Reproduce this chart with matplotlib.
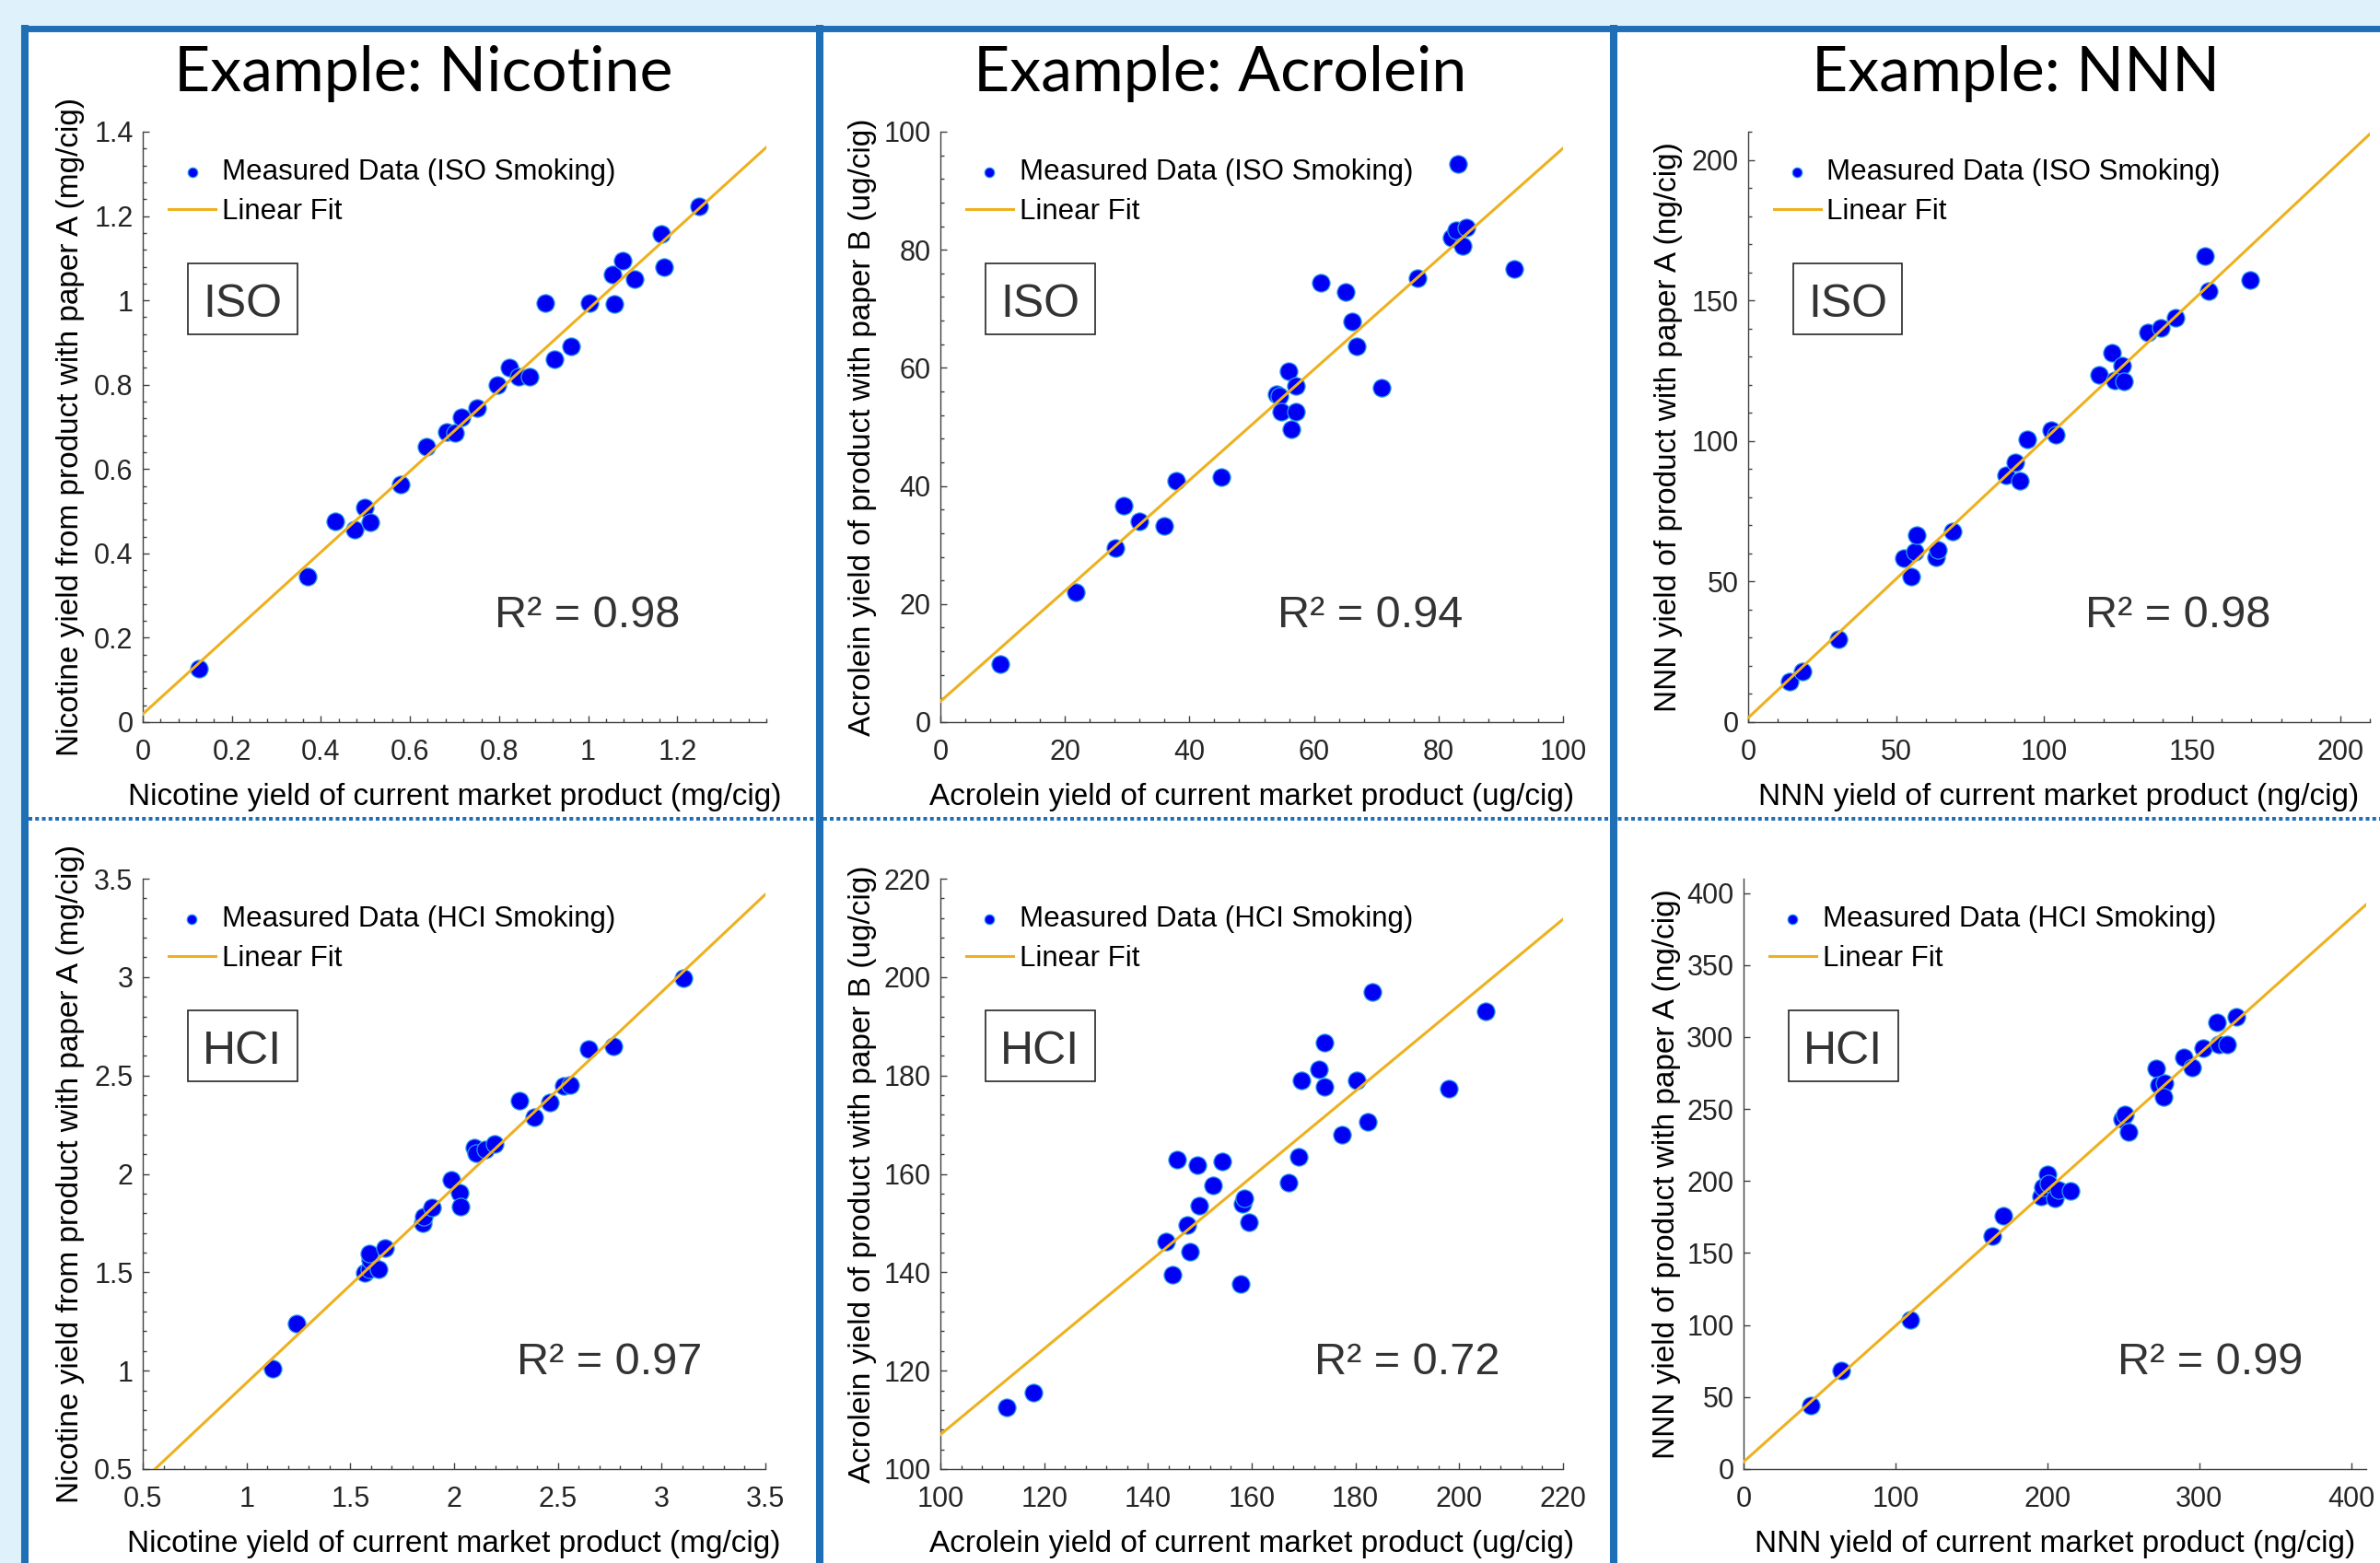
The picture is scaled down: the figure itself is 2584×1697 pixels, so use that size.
import numpy as np
import matplotlib.pyplot as plt
from matplotlib.patches import Rectangle
from matplotlib.ticker import AutoMinorLocator, FuncFormatter, NullLocator

W, H = 2584, 1697

# ---- values ----
nic_iso_x = [0.127, 0.370, 0.432, 0.476, 0.499, 0.510, 0.579, 0.637, 0.683, 0.702, 0.715, 0.751, 0.796, 0.824,
             0.843, 0.869, 0.904, 0.925, 0.961, 1.002, 1.054, 1.058, 1.077, 1.104, 1.164, 1.170, 1.250]
nic_iso_y = [0.127, 0.344, 0.476, 0.456, 0.509, 0.473, 0.564, 0.652, 0.689, 0.686, 0.722, 0.744, 0.799, 0.840,
             0.820, 0.820, 0.994, 0.861, 0.892, 0.994, 1.062, 0.991, 1.094, 1.051, 1.157, 1.080, 1.224]

acr_iso_x = [9.6, 21.7, 28.1, 29.4, 32.0, 35.9, 37.8, 45.1, 54.0, 54.5, 54.7, 55.9, 56.3, 57.1, 57.1, 61.1,
             65.1, 66.1, 66.8, 70.9, 76.7, 82.1, 82.9, 84.4, 83.9, 83.2, 92.2]
acr_iso_y = [9.9, 22.0, 29.5, 36.6, 34.0, 33.2, 40.9, 41.5, 55.5, 55.3, 52.5, 59.4, 49.6, 57.0, 52.6, 74.4,
             72.8, 67.8, 63.6, 56.7, 75.2, 82.1, 83.3, 83.8, 80.7, 94.5, 76.8]

nnn_iso_x = [13.9, 18.4, 30.6, 52.7, 55.0, 56.4, 56.9, 63.5, 64.2, 69.2, 87.0, 90.1, 91.8, 94.3, 102.2, 103.8,
             118.4, 122.9, 123.7, 126.4, 126.9, 134.9, 139.5, 144.3, 154.3, 155.7, 169.7]
nnn_iso_y = [14.4, 18.1, 29.6, 58.2, 51.8, 60.6, 66.4, 58.7, 61.1, 67.7, 87.8, 92.3, 85.9, 100.5, 104.0, 102.1,
             123.6, 131.4, 121.5, 126.7, 121.2, 138.5, 140.2, 143.7, 165.7, 153.4, 157.1]

nic_hci_x = [1.127, 1.242, 1.571, 1.591, 1.596, 1.591, 1.637, 1.665, 1.851, 1.854, 1.892, 1.987, 2.025, 2.032,
             2.096, 2.108, 2.152, 2.195, 2.315, 2.386, 2.463, 2.529, 2.557, 2.649, 2.766, 3.105]
nic_hci_y = [1.010, 1.240, 1.495, 1.517, 1.562, 1.594, 1.515, 1.625, 1.749, 1.784, 1.831, 1.969, 1.905, 1.833,
             2.135, 2.105, 2.125, 2.151, 2.370, 2.290, 2.364, 2.446, 2.451, 2.633, 2.648, 2.994]

acr_hci_x = [112.8, 117.9, 143.5, 144.8, 145.6, 147.5, 148.1, 149.5, 149.8, 152.5, 154.4, 157.8, 158.2, 158.5,
             159.5, 167.1, 169.1, 169.6, 172.9, 174.0, 174.0, 177.4, 180.2, 182.3, 183.2, 198.0, 205.1]
acr_hci_y = [112.5, 115.5, 146.3, 139.5, 162.9, 149.7, 144.2, 161.8, 153.5, 157.6, 162.5, 137.6, 154.0, 155.0,
             150.2, 158.2, 163.4, 179.0, 181.2, 186.6, 177.7, 168.0, 179.0, 170.5, 197.0, 177.3, 193.1]

nnn_hci_x = [44.4, 64.3, 110.0, 163.6, 170.8, 196.2, 196.9, 200.2, 200.8, 204.7, 207.3, 215.5, 249.1, 251.1,
             253.7, 271.7, 273.6, 276.9, 276.6, 290.0, 295.5, 302.7, 311.8, 312.8, 318.4, 324.2]
nnn_hci_y = [44.4, 68.4, 103.4, 161.6, 176.1, 189.2, 195.6, 204.7, 198.0, 187.9, 193.6, 192.9, 242.8, 246.5,
             234.0, 278.5, 266.7, 268.0, 258.2, 286.2, 279.1, 292.3, 310.1, 294.9, 294.9, 313.8]

# linear fit lines (intercept, slope) as drawn in the reference
fit_coefs = [(0.019, 0.960), (3.5, 0.937), (1.5, 0.989),
             (-0.055, 0.993), (19.7, 0.873), (5.0, 0.944)]
r2_values = ['0.98', '0.94', '0.98', '0.97', '0.72', '0.99']

titles = ['Example: Nicotine', 'Example: Acrolein', 'Example: NNN']
xlabels = ['Nicotine yield of current market product (mg/cig)',
           'Acrolein yield of current market product (ug/cig)',
           'NNN yield of current market product (ng/cig)']
ylabels = ['Nicotine yield from product with paper A (mg/cig)',
           'Acrolein yield of product with paper B (ug/cig)',
           'NNN yield of product with paper A (ng/cig)']
modes = ['ISO', 'HCI']

limits = [(0, 1.4), (0, 100), (0, 210), (0.5, 3.5), (100, 220), (0, 410)]
xticks = [np.arange(0, 1.21, 0.2), np.arange(0, 101, 20), np.arange(0, 201, 50),
          np.arange(0.5, 3.51, 0.5), np.arange(100, 221, 20), np.arange(0, 401, 100)]
yticks = [np.arange(0, 1.41, 0.2), np.arange(0, 101, 20), np.arange(0, 201, 50),
          np.arange(0.5, 3.51, 0.5), np.arange(100, 221, 20), np.arange(0, 401, 50)]

series = [(nic_iso_x, nic_iso_y), (acr_iso_x, acr_iso_y), (nnn_iso_x, nnn_iso_y),
          (nic_hci_x, nic_hci_y), (acr_hci_x, acr_hci_y), (nnn_hci_x, nnn_hci_y)]

# ---- layout (pixels in the output image) ----
axes_px = [(155, 143, 832, 784), (1021, 143, 1697, 784), (1898, 143, 2573, 784),
           (155, 954, 831, 1595), (1021, 954, 1697, 1595), (1893, 954, 2569, 1595)]
ylabel_x = [-0.093, -0.102, -0.105, -0.093, -0.102, -0.101]
r2_x = [0.564, 0.541, 0.542, 0.60, 0.60, 0.60]
title_cx = [460, 1325, 2189]

plt.rcParams['font.family'] = ['Liberation Sans', 'DejaVu Sans']
fig = plt.figure(figsize=(W / 100, H / 100), dpi=100, facecolor='#dff1fb')

# background frame
blue = '#1f6fb7'
bg = fig.add_axes([0, 0, 1, 1], zorder=-1)
bg.set_xlim(0, W)
bg.set_ylim(H, 0)
bg.axis('off')
bg.add_patch(Rectangle((27, 30), W - 27, H - 30, facecolor='white', edgecolor='none'))
bg.plot([31, W], [889, 889], color=blue, lw=2.9, dashes=(1.0, 0.8), dash_capstyle='butt')
bg.plot([23, W], [30.5, 30.5], color=blue, lw=5.0, solid_capstyle='butt')
for xc in [27, 890, 1752]:
    bg.plot([xc, xc], [27, H], color=blue, lw=5.8, solid_capstyle='butt')

for i, name in enumerate(titles):
    fig.text(title_cx[i] / W, 1 - 99 / H, name, family=['Lato', 'DejaVu Sans'], fontsize=49,
             ha='center', va='baseline', color='black')

fmt = FuncFormatter(lambda v, p: '%g' % round(v, 6))
tcol = '#262626'

for k in range(6):
    l, t, r, b = axes_px[k]
    ax = fig.add_axes([l / W, 1 - b / H, (r - l) / W, (b - t) / H])
    ax.set_facecolor('none')
    x, y = series[k]
    lo, hi = limits[k]
    a0, a1 = fit_coefs[k]
    mode = modes[k // 3]

    ax.scatter(x, y, s=190, facecolor='#0000f5', edgecolor='#2a9cf0', linewidth=0.9, zorder=3,
               label='Measured Data (%s Smoking)' % mode)
    xf = np.array([lo, hi])
    ax.plot(xf, a0 + a1 * xf, color='#EDB120', lw=2.2, zorder=4, label='Linear Fit')

    ax.set_xlim(lo, hi)
    ax.set_ylim(lo, hi)
    ax.set_xticks(xticks[k])
    ax.set_yticks(yticks[k])
    ax.xaxis.set_major_formatter(fmt)
    ax.yaxis.set_major_formatter(fmt)
    if k == 5:
        ax.xaxis.set_minor_locator(NullLocator())
        ax.yaxis.set_minor_locator(NullLocator())
    else:
        ax.xaxis.set_minor_locator(AutoMinorLocator(5))
        ax.yaxis.set_minor_locator(AutoMinorLocator(5))

    for s in ['top', 'right']:
        ax.spines[s].set_visible(False)
    for s in ['left', 'bottom']:
        ax.spines[s].set_color('#404040')
        ax.spines[s].set_linewidth(1.0)
    ax.tick_params(which='both', direction='in', color='#404040', width=1.0, labelcolor=tcol)
    ax.tick_params(which='major', length=4.7, labelsize=22)
    ax.tick_params(which='minor', length=3.0)
    ax.tick_params(axis='x', which='major', pad=13)
    ax.tick_params(axis='y', which='major', pad=7.5)

    ax.set_xlabel(xlabels[k % 3], fontsize=24, color='black')
    ax.set_ylabel(ylabels[k % 3], fontsize=24, color='black')
    ax.xaxis.set_label_coords(0.5, -0.103)
    ax.yaxis.set_label_coords(ylabel_x[k], 0.5)

    ax.legend(loc='upper left', bbox_to_anchor=(0.041, 0.955), frameon=False, fontsize=22.5,
              handlelength=1.65, handletextpad=0.2, labelspacing=0.41, borderpad=0,
              borderaxespad=0, markerscale=0.55)

    ax.add_patch(Rectangle((0.072, 0.657), 0.176, 0.12, transform=ax.transAxes, fill=False,
                           edgecolor=tcol, lw=1.2))
    ax.text(0.16, 0.687, mode, transform=ax.transAxes, fontsize=36, color='#333333',
            ha='center', va='baseline')
    ax.text(r2_x[k], 0.161, 'R² = ' + r2_values[k], transform=ax.transAxes, fontsize=35,
            color='#333333', ha='left', va='baseline')

fig.savefig('out.png', dpi=100, facecolor=fig.get_facecolor())
